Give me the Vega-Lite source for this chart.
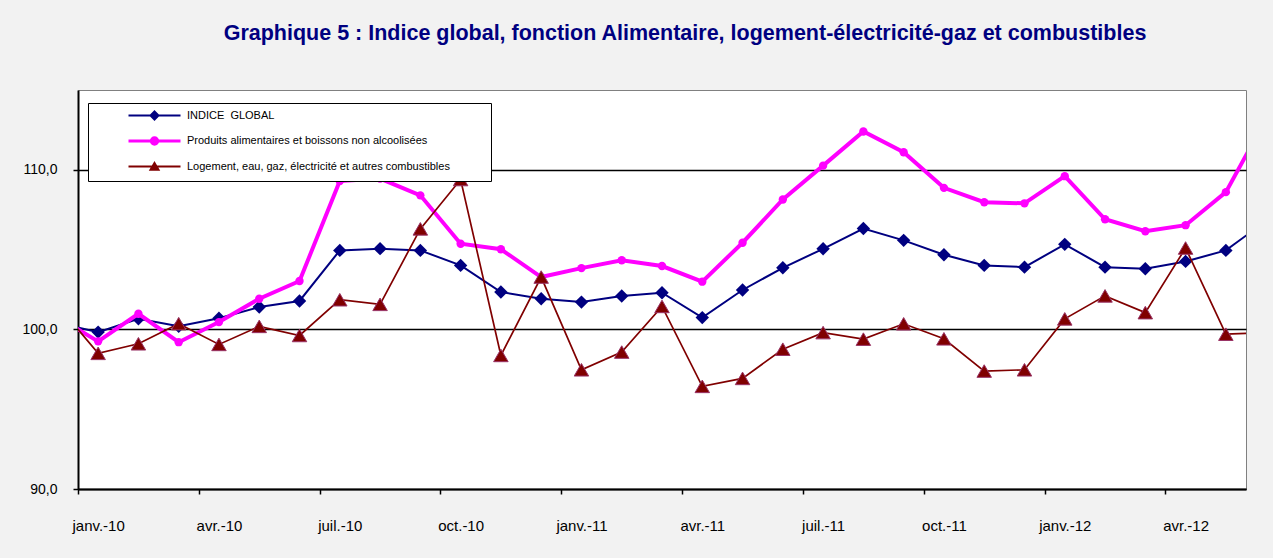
{
  "$schema": "https://vega.github.io/schema/vega-lite/v6.json",
  "width": 1168,
  "height": 399,
  "autosize": {"type": "none"},
  "padding": {"left": 78, "top": 90, "right": 27, "bottom": 69},
  "background": "#f2f2f2",
  "title": {
    "text": "Graphique 5 : Indice global, fonction Alimentaire, logement-électricité-gaz et combustibles",
    "font": "Liberation Sans",
    "fontSize": 21.5,
    "fontWeight": "bold",
    "color": "#000080",
    "anchor": "middle",
    "frame": "group",
    "baseline": "alphabetic",
    "offset": 29,
    "dx": 23
  },
  "data": {
    "values": [
      {"m": -1, "s": "INDICE GLOBAL", "v": 100.4},
      {"m": 0, "s": "INDICE GLOBAL", "v": 99.83},
      {"m": 1, "s": "INDICE GLOBAL", "v": 100.67},
      {"m": 2, "s": "INDICE GLOBAL", "v": 100.2},
      {"m": 3, "s": "INDICE GLOBAL", "v": 100.7},
      {"m": 4, "s": "INDICE GLOBAL", "v": 101.4},
      {"m": 5, "s": "INDICE GLOBAL", "v": 101.78},
      {"m": 6, "s": "INDICE GLOBAL", "v": 104.95},
      {"m": 7, "s": "INDICE GLOBAL", "v": 105.06},
      {"m": 8, "s": "INDICE GLOBAL", "v": 104.95},
      {"m": 9, "s": "INDICE GLOBAL", "v": 104.01},
      {"m": 10, "s": "INDICE GLOBAL", "v": 102.34},
      {"m": 11, "s": "INDICE GLOBAL", "v": 101.92},
      {"m": 12, "s": "INDICE GLOBAL", "v": 101.71},
      {"m": 13, "s": "INDICE GLOBAL", "v": 102.09},
      {"m": 14, "s": "INDICE GLOBAL", "v": 102.3},
      {"m": 15, "s": "INDICE GLOBAL", "v": 100.74},
      {"m": 16, "s": "INDICE GLOBAL", "v": 102.47},
      {"m": 17, "s": "INDICE GLOBAL", "v": 103.86},
      {"m": 18, "s": "INDICE GLOBAL", "v": 105.05},
      {"m": 19, "s": "INDICE GLOBAL", "v": 106.32},
      {"m": 20, "s": "INDICE GLOBAL", "v": 105.58},
      {"m": 21, "s": "INDICE GLOBAL", "v": 104.68},
      {"m": 22, "s": "INDICE GLOBAL", "v": 104.01},
      {"m": 23, "s": "INDICE GLOBAL", "v": 103.9},
      {"m": 24, "s": "INDICE GLOBAL", "v": 105.33},
      {"m": 25, "s": "INDICE GLOBAL", "v": 103.9},
      {"m": 26, "s": "INDICE GLOBAL", "v": 103.8},
      {"m": 27, "s": "INDICE GLOBAL", "v": 104.26},
      {"m": 28, "s": "INDICE GLOBAL", "v": 104.95},
      {"m": 29, "s": "INDICE GLOBAL", "v": 106.8},
      {"m": -1, "s": "Produits alimentaires et boissons non alcoolisées", "v": 100.75},
      {"m": 0, "s": "Produits alimentaires et boissons non alcoolisées", "v": 99.25},
      {"m": 1, "s": "Produits alimentaires et boissons non alcoolisées", "v": 100.98},
      {"m": 2, "s": "Produits alimentaires et boissons non alcoolisées", "v": 99.2},
      {"m": 3, "s": "Produits alimentaires et boissons non alcoolisées", "v": 100.46},
      {"m": 4, "s": "Produits alimentaires et boissons non alcoolisées", "v": 101.92},
      {"m": 5, "s": "Produits alimentaires et boissons non alcoolisées", "v": 103.03},
      {"m": 6, "s": "Produits alimentaires et boissons non alcoolisées", "v": 109.3},
      {"m": 7, "s": "Produits alimentaires et boissons non alcoolisées", "v": 109.45},
      {"m": 8, "s": "Produits alimentaires et boissons non alcoolisées", "v": 108.4},
      {"m": 9, "s": "Produits alimentaires et boissons non alcoolisées", "v": 105.37},
      {"m": 10, "s": "Produits alimentaires et boissons non alcoolisées", "v": 105.02},
      {"m": 11, "s": "Produits alimentaires et boissons non alcoolisées", "v": 103.28},
      {"m": 12, "s": "Produits alimentaires et boissons non alcoolisées", "v": 103.84},
      {"m": 13, "s": "Produits alimentaires et boissons non alcoolisées", "v": 104.33},
      {"m": 14, "s": "Produits alimentaires et boissons non alcoolisées", "v": 103.97},
      {"m": 15, "s": "Produits alimentaires et boissons non alcoolisées", "v": 102.99},
      {"m": 16, "s": "Produits alimentaires et boissons non alcoolisées", "v": 105.43},
      {"m": 17, "s": "Produits alimentaires et boissons non alcoolisées", "v": 108.14},
      {"m": 18, "s": "Produits alimentaires et boissons non alcoolisées", "v": 110.26},
      {"m": 19, "s": "Produits alimentaires et boissons non alcoolisées", "v": 112.4},
      {"m": 20, "s": "Produits alimentaires et boissons non alcoolisées", "v": 111.1},
      {"m": 21, "s": "Produits alimentaires et boissons non alcoolisées", "v": 108.87},
      {"m": 22, "s": "Produits alimentaires et boissons non alcoolisées", "v": 107.97},
      {"m": 23, "s": "Produits alimentaires et boissons non alcoolisées", "v": 107.9},
      {"m": 24, "s": "Produits alimentaires et boissons non alcoolisées", "v": 109.6},
      {"m": 25, "s": "Produits alimentaires et boissons non alcoolisées", "v": 106.9},
      {"m": 26, "s": "Produits alimentaires et boissons non alcoolisées", "v": 106.15},
      {"m": 27, "s": "Produits alimentaires et boissons non alcoolisées", "v": 106.53},
      {"m": 28, "s": "Produits alimentaires et boissons non alcoolisées", "v": 108.6},
      {"m": 29, "s": "Produits alimentaires et boissons non alcoolisées", "v": 113.2},
      {"m": -1, "s": "Logement, eau, gaz, électricité et autres combustibles", "v": 101.5},
      {"m": 0, "s": "Logement, eau, gaz, électricité et autres combustibles", "v": 98.5},
      {"m": 1, "s": "Logement, eau, gaz, électricité et autres combustibles", "v": 99.1},
      {"m": 2, "s": "Logement, eau, gaz, électricité et autres combustibles", "v": 100.36},
      {"m": 3, "s": "Logement, eau, gaz, électricité et autres combustibles", "v": 99.06},
      {"m": 4, "s": "Logement, eau, gaz, électricité et autres combustibles", "v": 100.19},
      {"m": 5, "s": "Logement, eau, gaz, électricité et autres combustibles", "v": 99.62},
      {"m": 6, "s": "Logement, eau, gaz, électricité et autres combustibles", "v": 101.86},
      {"m": 7, "s": "Logement, eau, gaz, électricité et autres combustibles", "v": 101.57},
      {"m": 8, "s": "Logement, eau, gaz, électricité et autres combustibles", "v": 106.3},
      {"m": 9, "s": "Logement, eau, gaz, électricité et autres combustibles", "v": 109.39},
      {"m": 10, "s": "Logement, eau, gaz, électricité et autres combustibles", "v": 98.37},
      {"m": 11, "s": "Logement, eau, gaz, électricité et autres combustibles", "v": 103.28},
      {"m": 12, "s": "Logement, eau, gaz, électricité et autres combustibles", "v": 97.47},
      {"m": 13, "s": "Logement, eau, gaz, électricité et autres combustibles", "v": 98.58},
      {"m": 14, "s": "Logement, eau, gaz, électricité et autres combustibles", "v": 101.44},
      {"m": 15, "s": "Logement, eau, gaz, électricité et autres combustibles", "v": 96.43},
      {"m": 16, "s": "Logement, eau, gaz, électricité et autres combustibles", "v": 96.93},
      {"m": 17, "s": "Logement, eau, gaz, électricité et autres combustibles", "v": 98.76},
      {"m": 18, "s": "Logement, eau, gaz, électricité et autres combustibles", "v": 99.8},
      {"m": 19, "s": "Logement, eau, gaz, électricité et autres combustibles", "v": 99.39},
      {"m": 20, "s": "Logement, eau, gaz, électricité et autres combustibles", "v": 100.35},
      {"m": 21, "s": "Logement, eau, gaz, électricité et autres combustibles", "v": 99.41},
      {"m": 22, "s": "Logement, eau, gaz, électricité et autres combustibles", "v": 97.39},
      {"m": 23, "s": "Logement, eau, gaz, électricité et autres combustibles", "v": 97.47},
      {"m": 24, "s": "Logement, eau, gaz, électricité et autres combustibles", "v": 100.66},
      {"m": 25, "s": "Logement, eau, gaz, électricité et autres combustibles", "v": 102.1},
      {"m": 26, "s": "Logement, eau, gaz, électricité et autres combustibles", "v": 101.05},
      {"m": 27, "s": "Logement, eau, gaz, électricité et autres combustibles", "v": 105.1},
      {"m": 28, "s": "Logement, eau, gaz, électricité et autres combustibles", "v": 99.7},
      {"m": 29, "s": "Logement, eau, gaz, électricité et autres combustibles", "v": 99.8}
    ]
  },
  "encoding": {
    "x": {"field": "m", "type": "quantitative", "scale": {"domain": [-0.5, 28.5], "nice": false, "zero": false}, "axis": null},
    "y": {
      "field": "v", "type": "quantitative",
      "scale": {"domain": [90, 115], "nice": false, "zero": false},
      "axis": {
        "orient": "left",
        "values": [90, 100, 110],
        "labelExpr": "replace(format(datum.value, '.1f'), '.', ',')",
        "labelFont": "Liberation Sans", "labelFontSize": 14, "labelColor": "black",
        "labelPadding": 16, "tickSize": 5, "tickColor": "black", "tickWidth": 1.5,
        "domain": true, "domainColor": "black", "domainWidth": 2,
        "grid": true, "gridColor": "black", "gridWidth": 1.5, "title": null
      }
    },
    "color": {
      "field": "s",
      "type": "nominal",
      "scale": {
        "domain": ["INDICE GLOBAL", "Produits alimentaires et boissons non alcoolisées", "Logement, eau, gaz, électricité et autres combustibles"],
        "range": ["#000080", "#FF00FF", "#800000"]
      },
      "legend": {
        "title": null,
        "orient": "none",
        "legendX": 10,
        "legendY": 13,
        "direction": "vertical",
        "fillColor": "white",
        "strokeColor": "black",
        "padding": 7,
        "rowPadding": 7.5,
        "symbolSize": 64,
        "symbolOffset": 54,
        "labelOffset": 27,
        "labelFont": "Liberation Sans",
        "labelFontSize": 11,
        "labelColor": "black",
        "labelLimit": 450,
        "labelExpr": "datum.label === 'INDICE GLOBAL' ? 'INDICE\u00a0\u00a0GLOBAL' : datum.label === 'Logement, eau, gaz, électricité et autres combustibles' ? datum.label + '\u00a0\u00a0\u00a0\u00a0\u00a0\u00a0\u00a0\u00a0\u00a0\u00a0\u00a0\u200b' : datum.label",
        "encode": {
          "symbols": {
            "update": {
              "shape": {"signal": "datum.index === 0 ? 'M-6.5,0H6.5M0,-1L1,0L0,1L-1,0Z' : datum.index === 1 ? 'M-6.5,0H6.5M-0.8,0A0.8,0.8,0,1,0,0.8,0A0.8,0.8,0,1,0,-0.8,0Z' : 'M-6.5,0H6.5M0,-0.9L1,0.8L-1,0.8Z'"},
              "strokeWidth": {"signal": "datum.index === 1 ? 3 : 2"},
              "stroke": {"scale": "color", "field": "value"},
              "fill": {"scale": "color", "field": "value"},
              "opacity": {"value": 1},
              "size": {"value": 64}
            }
          }
        }
      }
    }
  },
  "layer": [
    {
      "transform": [{"filter": "datum.s === 'INDICE GLOBAL'"}],
      "mark": {"type": "line", "strokeWidth": 2, "clip": true},
      "encoding": {
        "x": {
          "field": "m", "type": "quantitative",
          "scale": {"domain": [-0.5, 28.5], "nice": false, "zero": false},
          "axis": {
            "orient": "bottom",
            "values": [-0.5, 2.5, 5.5, 8.5, 11.5, 14.5, 17.5, 20.5, 23.5, 26.5],
            "labels": false, "ticks": true, "tickSize": 5, "tickColor": "black", "tickWidth": 1.5,
            "domain": true, "domainColor": "black", "domainWidth": 2, "grid": false, "title": null
          }
        }
      }
    },
    {
      "transform": [{"filter": "datum.s === 'INDICE GLOBAL' && datum.m >= 0 && datum.m <= 28"}],
      "mark": {"type": "point", "shape": "diamond", "filled": true, "size": 180, "opacity": 1},
      "encoding": {
        "x": {
          "field": "m", "type": "quantitative",
          "scale": {"domain": [-0.5, 28.5], "nice": false, "zero": false},
          "axis": {
            "orient": "bottom",
            "values": [0, 3, 6, 9, 12, 15, 18, 21, 24, 27],
            "labelExpr": "['janv.', 'avr.', 'juil.', 'oct.'][(datum.value / 3) % 4] + '-' + (10 + floor(datum.value / 12))",
            "labelFont": "Liberation Sans", "labelFontSize": 15, "labelColor": "black",
            "labelPadding": 29, "ticks": false, "domain": false, "grid": false, "title": null, "labelFlush": false, "labelOverlap": false
          }
        }
      }
    },
    {
      "transform": [{"filter": "datum.s === 'Produits alimentaires et boissons non alcoolisées'"}],
      "mark": {"type": "line", "strokeWidth": 4, "clip": true}
    },
    {
      "transform": [{"filter": "datum.s === 'Produits alimentaires et boissons non alcoolisées' && datum.m >= 0 && datum.m <= 28"}],
      "mark": {"type": "point", "shape": "circle", "filled": true, "size": 70, "opacity": 1}
    },
    {
      "transform": [{"filter": "datum.s === 'Logement, eau, gaz, électricité et autres combustibles'"}],
      "mark": {"type": "line", "strokeWidth": 1.7, "clip": true}
    },
    {
      "transform": [{"filter": "datum.s === 'Logement, eau, gaz, électricité et autres combustibles' && datum.m >= 0 && datum.m <= 28"}],
      "mark": {"type": "point", "shape": "triangle-up", "filled": true, "size": 210, "opacity": 1, "stroke": "#993366", "strokeWidth": 1}
    }
  ],
  "resolve": {"axis": {"x": "independent"}},
  "config": {
    "view": {"fill": "white", "stroke": "#808080", "strokeWidth": 1},
    "font": "Liberation Sans"
  }
}
